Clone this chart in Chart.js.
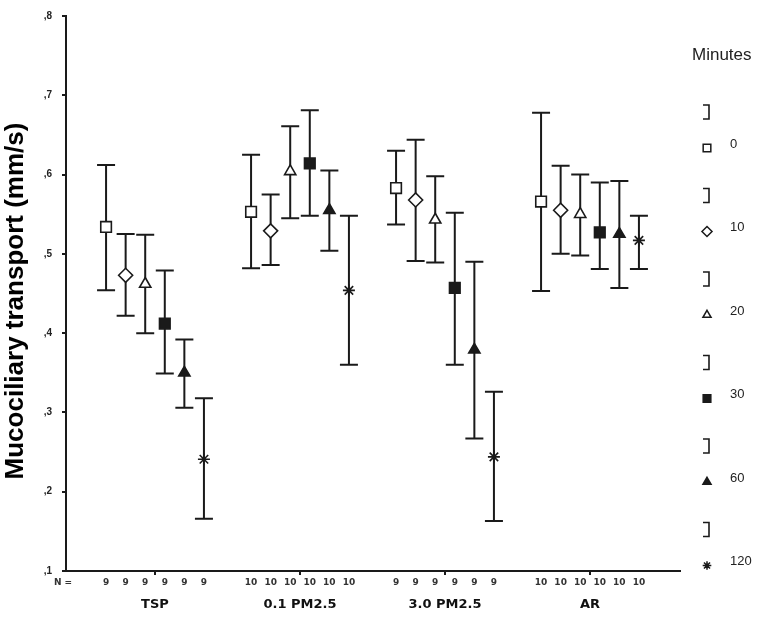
<!DOCTYPE html>
<html>
<head>
<meta charset="utf-8">
<script src="https://cdn.jsdelivr.net/npm/chart.js@4/dist/chart.umd.min.js"></script>
<style>
  html, body { margin: 0; padding: 0; background: #fff; }
  #wrap { width: 780px; height: 625px; position: relative; }
</style>
</head>
<body>
<div id="wrap"><canvas id="c" width="780" height="625"></canvas></div>
<script>
// ---- data ----
const groups = ["TSP", "0.1 PM2.5", "3.0 PM2.5", "AR"];
const minutes = ["0", "10", "20", "30", "60", "120"];
const nCounts = [9, 10, 9, 10];
const yTickLabels = [",1", ",2", ",3", ",4", ",5", ",6", ",7", ",8"];
const yTitle = "Mucociliary transport (mm/s)";

const mean0   = [0.534, 0.553, 0.583, 0.566];
const low0    = [0.454, 0.482, 0.537, 0.453];
const high0   = [0.612, 0.625, 0.630, 0.678];
const mean10  = [0.473, 0.529, 0.568, 0.555];
const low10   = [0.422, 0.486, 0.491, 0.500];
const high10  = [0.525, 0.575, 0.644, 0.611];
const mean20  = [0.462, 0.604, 0.543, 0.550];
const low20   = [0.400, 0.545, 0.489, 0.498];
const high20  = [0.524, 0.661, 0.598, 0.600];
const mean30  = [0.412, 0.614, 0.457, 0.527];
const low30   = [0.349, 0.548, 0.360, 0.481];
const high30  = [0.479, 0.681, 0.552, 0.590];
const mean60  = [0.350, 0.555, 0.379, 0.525];
const low60   = [0.306, 0.504, 0.267, 0.457];
const high60  = [0.392, 0.605, 0.490, 0.592];
const mean120 = [0.241, 0.454, 0.244, 0.517];
const low120  = [0.166, 0.360, 0.163, 0.481];
const high120 = [0.318, 0.548, 0.326, 0.548];

const means = [mean0, mean10, mean20, mean30, mean60, mean120];
const lows  = [low0, low10, low20, low30, low60, low120];
const highs = [high0, high10, high20, high30, high60, high120];

// ---- styles ----
const INK = '#1a1a1a';
const styles = [
  { pointStyle: 'rect',     fill: '#ffffff', radius: 7.5 },
  { pointStyle: 'rectRot',  fill: '#ffffff', radius: 7 },
  { pointStyle: 'triangle', fill: '#ffffff', radius: 6.5 },
  { pointStyle: 'rect',     fill: INK,       radius: 7.5 },
  { pointStyle: 'triangle', fill: INK,       radius: 6.5 },
  { pointStyle: 'star',     fill: INK,       radius: 6 }
];
const slot = 0.135; // spacing of the six series inside a group (axis units)

const datasets = minutes.map((m, k) => ({
  label: m,
  data: groups.map((g, gi) => ({
    x: gi + (k - 2.5) * slot,
    y: means[k][gi], lo: lows[k][gi], hi: highs[k][gi], n: nCounts[gi]
  })),
  pointStyle: styles[k].pointStyle,
  pointRadius: styles[k].radius,
  pointHoverRadius: styles[k].radius,
  pointBackgroundColor: styles[k].fill,
  pointBorderColor: INK,
  pointBorderWidth: 1.6,
  showLine: false
}));

const errorBars = {
  id: 'errorBars',
  beforeDatasetsDraw(chart) {
    const { ctx, scales: { x, y } } = chart;
    ctx.save();
    ctx.strokeStyle = INK;
    ctx.lineWidth = 2;
    chart.data.datasets.forEach(ds => {
      ds.data.forEach(p => {
        const px = x.getPixelForValue(p.x);
        const pt = y.getPixelForValue(p.hi);
        const pb = y.getPixelForValue(p.lo);
        ctx.beginPath();
        ctx.moveTo(px, pt); ctx.lineTo(px, pb);
        ctx.moveTo(px - 9, pt); ctx.lineTo(px + 9, pt);
        ctx.moveTo(px - 9, pb); ctx.lineTo(px + 9, pb);
        ctx.stroke();
      });
    });
    ctx.restore();
  }
};

const nLabels = {
  id: 'nLabels',
  afterDraw(chart) {
    const { ctx, scales: { x, y } } = chart;
    ctx.save();
    ctx.fillStyle = '#333';
    ctx.textAlign = 'center';
    ctx.textBaseline = 'middle';
    ctx.font = 'bold 9px "DejaVu Sans"';
    const yy = y.bottom + 12;
    ctx.fillText('N =', 63, yy);
    chart.data.datasets.forEach(ds => {
      ds.data.forEach(p => {
        ctx.fillText(String(p.n), x.getPixelForValue(p.x), yy);
      });
    });
    ctx.restore();
  }
};

const yTitlePlugin = {
  id: 'yTitlePlugin',
  afterDraw(chart) {
    const { ctx } = chart;
    ctx.save();
    ctx.translate(16, 301);
    ctx.rotate(-Math.PI / 2);
    ctx.fillStyle = '#000';
    ctx.textAlign = 'center';
    ctx.textBaseline = 'middle';
    ctx.font = 'bold 26px "Liberation Sans", Arial, sans-serif';
    ctx.fillText(yTitle, 0, 0);
    ctx.restore();
  }
};

function drawMarker(ctx, style, r, x, y, fill) {
  ctx.fillStyle = fill;
  ctx.strokeStyle = INK;
  ctx.lineWidth = 1.5;
  if (Chart.helpers && Chart.helpers.drawPoint) {
    Chart.helpers.drawPoint(ctx, { pointStyle: style, radius: r, rotation: 0, borderWidth: 1.5 }, x, y);
  }
}

const sideLegend = {
  id: 'sideLegend',
  afterDraw(chart) {
    const { ctx } = chart;
    ctx.save();
    ctx.fillStyle = '#222';
    ctx.textBaseline = 'middle';
    ctx.textAlign = 'left';
    ctx.font = '17px "Liberation Sans", Arial, sans-serif';
    ctx.fillText('Minutes', 692, 55);
    const mx = 707;
    minutes.forEach((m, k) => {
      const cy = 148 + 83.5 * k;
      const by = cy - 36;
      ctx.strokeStyle = INK;
      ctx.lineWidth = 1.6;
      ctx.beginPath();
      ctx.moveTo(703, by - 7); ctx.lineTo(709, by - 7); ctx.lineTo(709, by + 7); ctx.lineTo(703, by + 7);
      ctx.stroke();
      drawMarker(ctx, styles[k].pointStyle, styles[k].radius * 0.72, mx, cy, styles[k].fill);
      ctx.fillStyle = '#222';
      ctx.font = '13px "Liberation Sans", Arial, sans-serif';
      ctx.fillText(m, 730, cy - 4);
    });
    ctx.restore();
  }
};

new Chart(document.getElementById('c'), {
  type: 'scatter',
  data: { datasets },
  options: {
    responsive: false,
    animation: false,
    layout: { padding: { top: 8, right: 100, bottom: 0, left: 0 } },
    plugins: { legend: { display: false }, tooltip: { enabled: false } },
    scales: {
      x: {
        type: 'linear',
        min: -0.6138,
        max: 3.6207,
        afterBuildTicks(s) { s.ticks = groups.map((g, i) => ({ value: i })); },
        ticks: {
          callback: (v, i) => groups[i],
          font: { family: 'DejaVu Sans', weight: 'bold', size: 13 },
          color: '#111',
          padding: 22,
          maxRotation: 0,
          autoSkip: false
        },
        grid: { drawOnChartArea: false, tickLength: 4, color: INK, lineWidth: 2 },
        border: { color: INK, width: 2 },
        afterFit(s) { s.height = 54; }
      },
      y: {
        min: 0.1,
        max: 0.8,
        ticks: {
          stepSize: 0.1,
          callback: (v, i) => yTickLabels[i],
          font: { family: 'Liberation Sans', weight: 'bold', size: 10 },
          color: '#222',
          padding: 10
        },
        grid: { drawOnChartArea: false, tickLength: 4, color: INK, lineWidth: 2 },
        border: { color: INK, width: 2 },
        title: { display: false },
        afterFit(s) { s.width = 66; }
      }
    }
  },
  plugins: [errorBars, nLabels, yTitlePlugin, sideLegend]
});
</script>
</body>
</html>
